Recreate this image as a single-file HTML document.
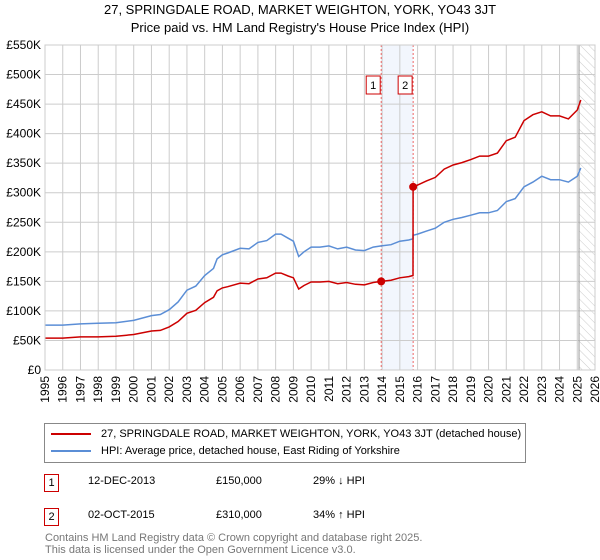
<!DOCTYPE html>
<html><head><meta charset="utf-8"><style>
body{margin:0;background:#fff;font-family:"Liberation Sans","DejaVu Sans",sans-serif;}
#wrap{position:relative;width:600px;height:560px;overflow:hidden;}
.t{position:absolute;font-size:12px;color:#000;white-space:nowrap;}
</style></head><body>
<div id="wrap">
<div class="t" style="left:0;width:600px;text-align:center;top:2px;font-size:13px;">27, SPRINGDALE ROAD, MARKET WEIGHTON, YORK, YO43 3JT</div>
<div class="t" style="left:0;width:600px;text-align:center;top:20px;font-size:13px;">Price paid vs. HM Land Registry's House Price Index (HPI)</div>
<svg id="chart" width="600" height="420" style="position:absolute;left:0;top:0">
<defs><pattern id="hatch" width="6" height="6" patternUnits="userSpaceOnUse" patternTransform="rotate(-45)"><line x1="0" y1="0" x2="0" y2="6" stroke="#ccc" stroke-width="1"/></pattern></defs>
</svg>
<div style="position:absolute;left:44px;top:423px;width:480px;height:38px;border:1px solid #888;">
<div style="position:absolute;left:6px;top:4px;font-size:11px;white-space:nowrap;"><span style="display:inline-block;width:40px;height:2px;background:#cc0000;vertical-align:middle;margin-right:10px;"></span>27, SPRINGDALE ROAD, MARKET WEIGHTON, YORK, YO43 3JT (detached house)</div>
<div style="position:absolute;left:6px;top:21px;font-size:11px;white-space:nowrap;"><span style="display:inline-block;width:40px;height:2px;background:#5b8ed6;vertical-align:middle;margin-right:10px;"></span>HPI: Average price, detached house, East Riding of Yorkshire</div>
</div>
<div style="position:absolute;left:44px;top:474px;width:13px;height:16px;border:1px solid #cc0000;font-size:11px;text-align:center;line-height:16px;">1</div>
<div class="t" style="left:88px;top:475px;font-size:11px;">12-DEC-2013</div>
<div class="t" style="left:216px;top:475px;font-size:11px;">£150,000</div>
<div class="t" style="left:313px;top:475px;font-size:11px;">29% ↓ HPI</div>
<div style="position:absolute;left:44px;top:508px;width:13px;height:16px;border:1px solid #cc0000;font-size:11px;text-align:center;line-height:16px;">2</div>
<div class="t" style="left:88px;top:509px;font-size:11px;">02-OCT-2015</div>
<div class="t" style="left:216px;top:509px;font-size:11px;">£310,000</div>
<div class="t" style="left:313px;top:509px;font-size:11px;">34% ↑ HPI</div>
<div class="t" style="left:45px;top:532px;font-size:11px;color:#777;line-height:12px;">Contains HM Land Registry data © Crown copyright and database right 2025.<br>This data is licensed under the Open Government Licence v3.0.</div>
</div>
<script>
const dates=[1995,1996,1997,1998,1999,2000,2001,2001.5,2002,2002.5,2003,2003.5,2004,2004.5,2004.7,2005,2005.3,2006,2006.5,2007,2007.5,2008,2008.3,2008.7,2009,2009.3,2009.6,2010,2010.5,2011,2011.5,2012,2012.5,2013,2013.5,2013.95,2014.5,2015,2015.5,2015.74,2015.75,2016,2016.5,2017,2017.5,2018,2018.5,2019,2019.5,2020,2020.5,2021,2021.5,2022,2022.5,2023,2023.5,2024,2024.5,2025,2025.2];
const hpiValues=[76,76,78,79,80,84,92,94,102,115,135,142,160,172,188,195,198,206,205,216,219,230,230,223,218,192,200,208,208,210,205,208,203,202,208,210,212,218,220,222,228,230,235,240,250,255,258,262,266,266,270,285,290,310,318,328,322,322,318,328,342];
const priceValues=[54,54,56,56,57,60,66,67,73,82,96,101,114,123,134,139,141,147,146,154,156,164,164,159,156,137,143,149,149,150,146,148,145,144,148,150,152,156,158,160,310,313,320,326,340,347,351,356,362,362,367,388,394,422,432,437,430,430,425,440,457];
const saleDates=[2013.95,2015.75];
const salePrices=[150,310];
const yTicks=[0,50,100,150,200,250,300,350,400,450,500,550];
const yTickLabels=["£0","£50K","£100K","£150K","£200K","£250K","£300K","£350K","£400K","£450K","£500K","£550K"];
const xTicks=[1995,1996,1997,1998,1999,2000,2001,2002,2003,2004,2005,2006,2007,2008,2009,2010,2011,2012,2013,2014,2015,2016,2017,2018,2019,2020,2021,2022,2023,2024,2025,2026];
const L=45,R=595,T=45,B=370,X0=1995,X1=2026,YMAX=550;
const xs=d=>L+(d-X0)/(X1-X0)*(R-L);
const ys=v=>B-v/YMAX*(B-T);
const svg=document.getElementById('chart');
const NS='http://www.w3.org/2000/svg';
function mk(tag,attrs){const e=document.createElementNS(NS,tag);for(const k in attrs)e.setAttribute(k,attrs[k]);svg.appendChild(e);return e;}
let band=mk('rect',{x:xs(saleDates[0]),y:T,width:xs(saleDates[1])-xs(saleDates[0]),height:B-T,fill:'#f2f6fd'});


let hatch=mk('rect',{x:xs(2025.1),y:T,width:R-xs(2025.1),height:B-T,fill:'url(#hatch)'});


xTicks.forEach((t,i)=>{
 let g=mk('line',{x1:xs(t),x2:xs(t),y1:T,y2:B,stroke:'#ccc','stroke-width':1});
 
 
 let tx=mk('text',{x:0,y:0,'font-size':12,'text-anchor':'end',transform:`translate(${xs(t)+4},${B+6}) rotate(-90)`,fill:'#000','font-family':'Liberation Sans, sans-serif'});
 tx.textContent=t;
 
 
});
yTicks.forEach((t,i)=>{
 let g=mk('line',{x1:L,x2:R,y1:ys(t),y2:ys(t),stroke:'#ccc','stroke-width':1});
 
 
 let tx=mk('text',{x:L-4,y:ys(t)+4,'font-size':12,'text-anchor':'end',fill:'#000','font-family':'Liberation Sans, sans-serif'});
 tx.textContent=yTickLabels[i];
 
 
});
let nowLine=mk('line',{x1:xs(2025.1),x2:xs(2025.1),y1:T,y2:B,stroke:'#999','stroke-width':1});


saleDates.forEach((d,i)=>{
 let l=mk('line',{x1:xs(d),x2:xs(d),y1:T,y2:B,stroke:'#e66','stroke-width':1,'stroke-dasharray':'2,2'});
 
 
 let r=mk('rect',{x:xs(d)-15,y:76,width:14,height:18,fill:'#fff',stroke:'#cc0000'});
 
 
 let tx=mk('text',{x:xs(d)-8,y:89,'font-size':11,'text-anchor':'middle','font-family':'Liberation Sans, sans-serif'});
 tx.textContent=String(i+1);
 
 
});
const path=vals=>dates.map((d,i)=>(i?'L':'M')+xs(d).toFixed(1)+','+ys(vals[i]).toFixed(1)).join('');
let hp=mk('path',{d:path(hpiValues),fill:'none',stroke:'#5b8ed6','stroke-width':1.5});


let pp=mk('path',{d:path(priceValues),fill:'none',stroke:'#cc0000','stroke-width':1.5});


saleDates.forEach((d,i)=>{
 let c=mk('circle',{cx:xs(d),cy:ys(salePrices[i]),r:4,fill:'#cc0000'});
 
 
});
let frame=mk('rect',{x:L,y:T,width:R-L,height:B-T,fill:'none',stroke:'#ccc'});


</script>
</body></html>
